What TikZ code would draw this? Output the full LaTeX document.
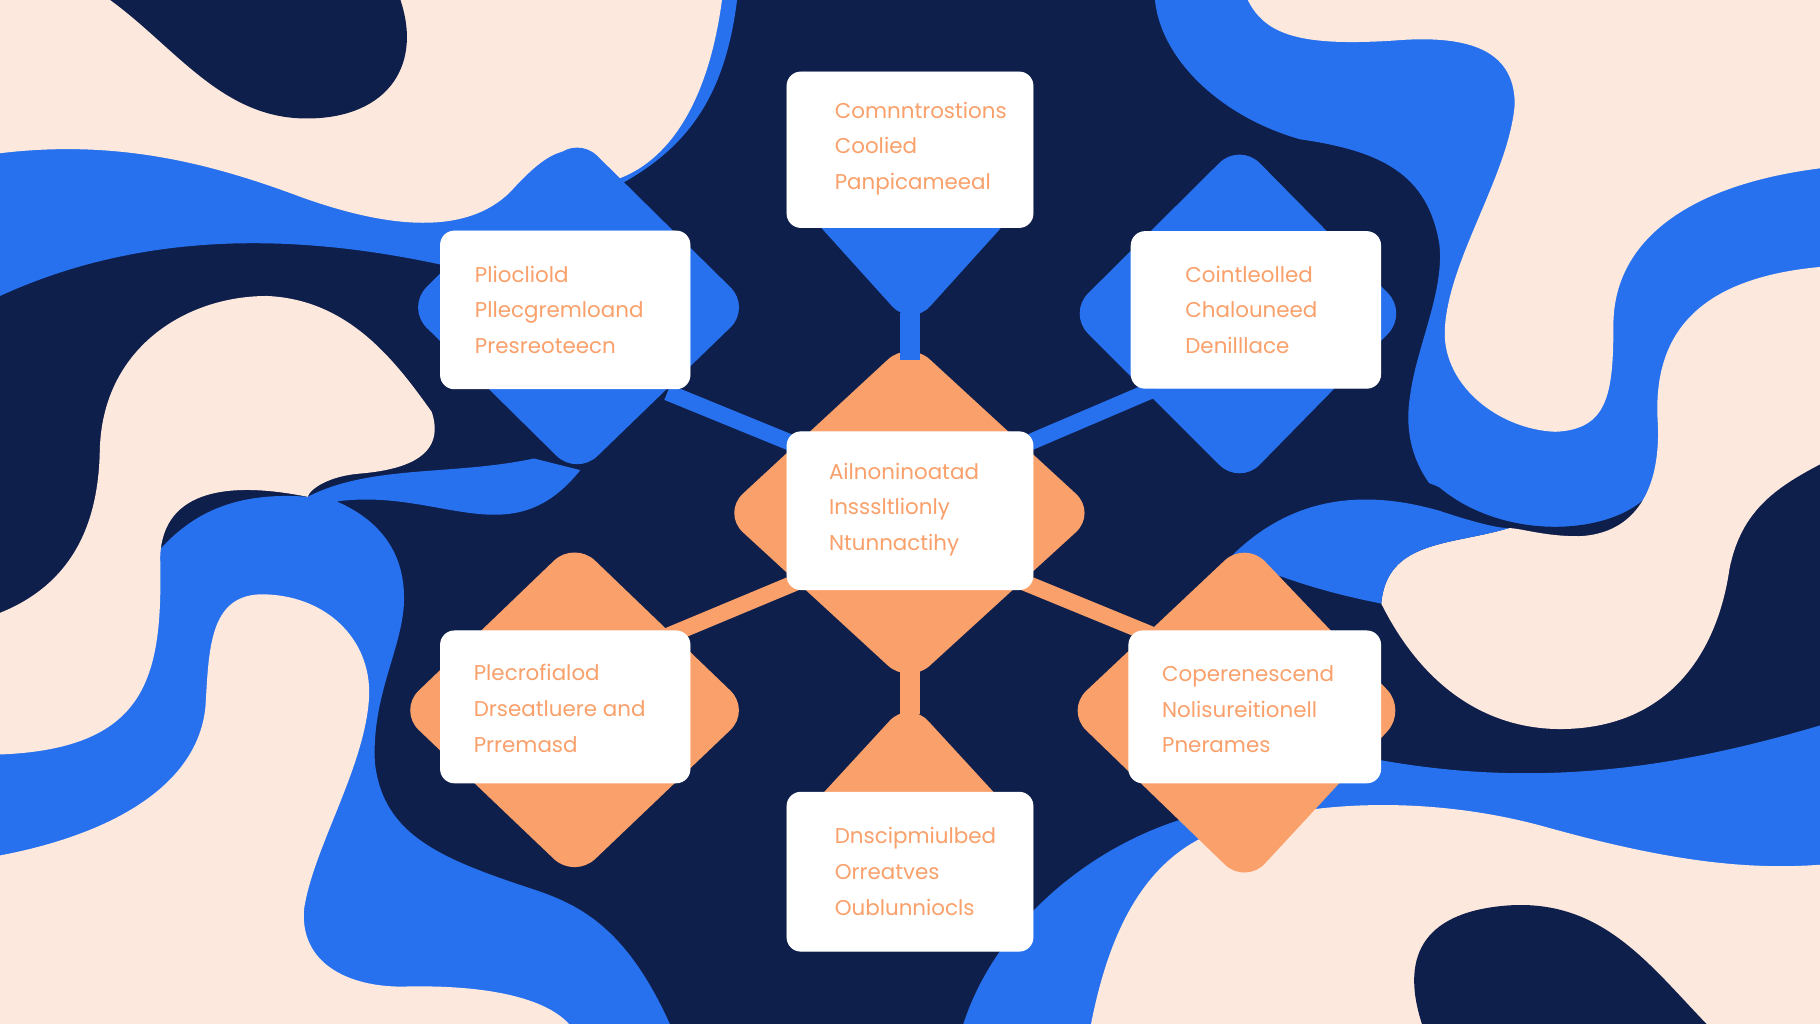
\documentclass[tikz,border=0pt]{standalone}
\usepackage{fontspec}
\setmainfont{Poppins}
\definecolor{navy}{HTML}{0F1F4B}
\definecolor{blu}{HTML}{2771EE}
\definecolor{peach}{HTML}{FDE8DD}
\definecolor{orng}{HTML}{F9A06B}
\begin{document}
\begin{tikzpicture}[x=0.02cm,y=-0.02cm,
  box/.style={fill=white,rounded corners=7pt,inner sep=0pt},
  txt/.style={anchor=west,align=left,text=orng,font=\fontsize{10.5}{17.6}\selectfont},
  bd/.style={fill=blu,rounded corners=14pt},
  od/.style={fill=orng,rounded corners=14pt},
  bc/.style={draw=blu,line width=8pt},
  oc/.style={draw=orng,line width=8pt}]
\fill[navy] (0,0) rectangle (1568,882);
\useasboundingbox (0,0) rectangle (1568,882);
% top-left
\fill[blu] (0,0)--(635,0) .. controls (620,120) and (560,160) .. (430,200) -- (380,228) .. controls (250,200) and (120,200) .. (0,255) -- cycle;
\fill[peach] (0,0)--(622,0) .. controls (610,90) and (575,140) .. (530,155) .. controls (500,125) and (485,115) .. (440,165) .. controls (400,205) and (330,195) .. (260,170) .. controls (180,140) and (100,120) .. (0,132) -- cycle;
\fill[navy] (95,0) .. controls (150,40) and (190,100) .. (260,102) .. controls (330,104) and (365,60) .. (345,0) -- cycle;
% lower-left
\fill[blu] (0,560) -- (0,882) -- (577,882) .. controls (540,800) and (500,780) .. (462,767) .. controls (380,740) and (330,720) .. (323,657) .. controls (320,600) and (346,560) .. (348,520) .. controls (350,470) and (320,445) .. (290,432) .. controls (380,420) and (440,480) .. (500,405) -- (460,395) .. controls (390,410) and (320,400) .. (265,428) .. controls (160,420) and (130,480) .. (90,540) -- cycle;
\fill[peach] (0,528) .. controls (70,500) and (85,440) .. (86,388) .. controls (88,300) and (160,255) .. (230,255) .. controls (300,258) and (340,310) .. (372,355) .. controls (385,395) and (345,405) .. (310,408) .. controls (285,410) and (268,420) .. (265,428) .. controls (200,415) and (140,420) .. (138,480) .. controls (140,580) and (130,645) .. (0,650) -- cycle;
\fill[peach] (0,737) .. controls (90,720) and (170,680) .. (177,609) .. controls (180,560) and (180,513) .. (225,512) .. controls (280,512) and (320,550) .. (318,600) .. controls (315,660) and (270,730) .. (262,783) .. controls (258,830) and (300,850) .. (346,850) .. controls (420,848) and (470,860) .. (490,882) -- (0,882) -- cycle;
% right top
\fill[blu] (995,0) -- (1568,0) -- (1568,470) -- (1300,470) .. controls (1240,440) and (1205,400) .. (1215,340) .. controls (1220,300) and (1245,250) .. (1240,210) .. controls (1230,150) and (1190,130) .. (1120,120) .. controls (1050,100) and (1000,50) .. (995,0) -- cycle;
\fill[peach] (1075,0) -- (1568,0) -- (1568,145) .. controls (1450,160) and (1390,210) .. (1390,280) .. controls (1390,340) and (1385,370) .. (1340,372) .. controls (1290,370) and (1240,330) .. (1245,280) .. controls (1250,220) and (1300,150) .. (1305,90) .. controls (1305,40) and (1260,30) .. (1200,35) .. controls (1120,40) and (1090,30) .. (1075,0) -- cycle;
\fill[navy] (1240,420) .. controls (1300,470) and (1400,460) .. (1425,420) -- (1568,400) -- (1568,630) -- (1160,630) -- (1100,470) .. controls (1150,420) and (1200,400) .. (1240,420) -- cycle;
\fill[peach] (1568,230) .. controls (1460,240) and (1425,290) .. (1428,360) .. controls (1432,420) and (1410,460) .. (1360,462) .. controls (1330,462) and (1310,455) .. (1300,455) .. controls (1250,470) and (1195,465) .. (1190,520) .. controls (1230,600) and (1290,630) .. (1350,628) .. controls (1440,625) and (1480,560) .. (1490,490) .. controls (1500,440) and (1530,420) .. (1568,400) -- cycle;
\fill[blu] (1060,480) .. controls (1110,430) and (1170,420) .. (1240,440) .. controls (1270,450) and (1290,455) .. (1300,455) .. controls (1250,470) and (1195,465) .. (1190,520) .. controls (1140,510) and (1110,500) .. (1060,480) -- cycle;
\fill[blu] (830,882) .. controls (860,790) and (950,720) .. (1040,700) -- (1190,655) .. controls (1330,680) and (1450,660) .. (1568,625) -- (1568,882) -- cycle;
\fill[peach] (940,882) .. controls (960,780) and (1000,730) .. (1060,712) .. controls (1150,685) and (1250,690) .. (1330,712) .. controls (1430,740) and (1500,750) .. (1568,745) -- (1568,882) -- cycle;
\fill[navy] (1225,882) .. controls (1205,820) and (1230,785) .. (1300,780) .. controls (1380,775) and (1420,830) .. (1470,882) -- cycle;
% diamonds
\fill[bd] (785,62)--(888,168)--(785,282)--(682,168)--cycle;
\fill[bd] (497,117)--(647,265)--(497,410)--(350,265)--cycle;
\fill[bd] (1068,123)--(1213,270)--(1068,418)--(920,270)--cycle;
\fill[od] (783,293)--(945,442)--(783,590)--(622,442)--cycle;
\fill[od] (495,466)--(647,612)--(495,757)--(343,612)--cycle;
\fill[od] (1073,466)--(1212,612)--(1073,762)--(918,612)--cycle;
\fill[od] (783,603)--(886,715)--(783,818)--(680,715)--cycle;
% boxes
\node[box,minimum width=4.24cm,minimum height=2.68cm] (t) at (784,129) {};
\node[box,minimum width=4.3cm,minimum height=2.72cm] (ul) at (487,267) {};
\node[box,minimum width=4.3cm,minimum height=2.7cm] (ur) at (1082,267) {};
\node[box,minimum width=4.24cm,minimum height=2.72cm] (c) at (784,440) {};
\node[box,minimum width=4.3cm,minimum height=2.62cm] (ll) at (487,609) {};
\node[box,minimum width=4.34cm,minimum height=2.62cm] (lr) at (1081,609) {};
\node[box,minimum width=4.24cm,minimum height=2.74cm] (b) at (784,751) {};
% connectors
\coordinate (t1) at (784,270); \coordinate (c1) at (784,310);
\coordinate (c2) at (784,575); \coordinate (b1) at (784,615);
\coordinate (ul1) at (575,338); \coordinate (c3) at (690,385);
\coordinate (ur1) at (995,335); \coordinate (c4) at (878,385);
\coordinate (ll1) at (575,548); \coordinate (c5) at (690,500);
\coordinate (lr1) at (995,548); \coordinate (c6) at (878,500);
\draw[bc,line width=10pt] (t1)--(c1);
\draw[oc,line width=10pt] (c2)--(b1);
\draw[bc] (ul1)--(c3); \draw[bc] (ur1)--(c4);
\draw[oc] (ll1)--(c5); \draw[oc] (lr1)--(c6);
\foreach \n in {t,ul,ur,c,ll,lr,b}{\fill[white,rounded corners=7pt] (\n.south west) rectangle (\n.north east);}
% texts
\node[txt] (tt) at (713,128) {Comnntrostions\\Coolied\\Panpicameeal};
\node[txt] (ult) at (403,267) {Pliocliold\\Pllecgremloand\\Presreoteecn};
\node[txt] (urt) at (1015,267) {Cointleolled\\Chalouneed\\Denilllace};
\node[txt] (ct) at (708,439) {Ailnoninoatad\\Insssltlionly\\Ntunnactihy};
\node[txt] (llt) at (402,610) {Plecrofialod\\Drseatluere and\\Prremasd};
\node[txt] (lrt) at (995,611) {Coperenescend\\Nolisureitionell\\Pnerames};
\node[txt] (bt) at (713,751) {Dnscipmiulbed\\Orreatves\\Oublunniocls};
\end{tikzpicture}
\end{document}
